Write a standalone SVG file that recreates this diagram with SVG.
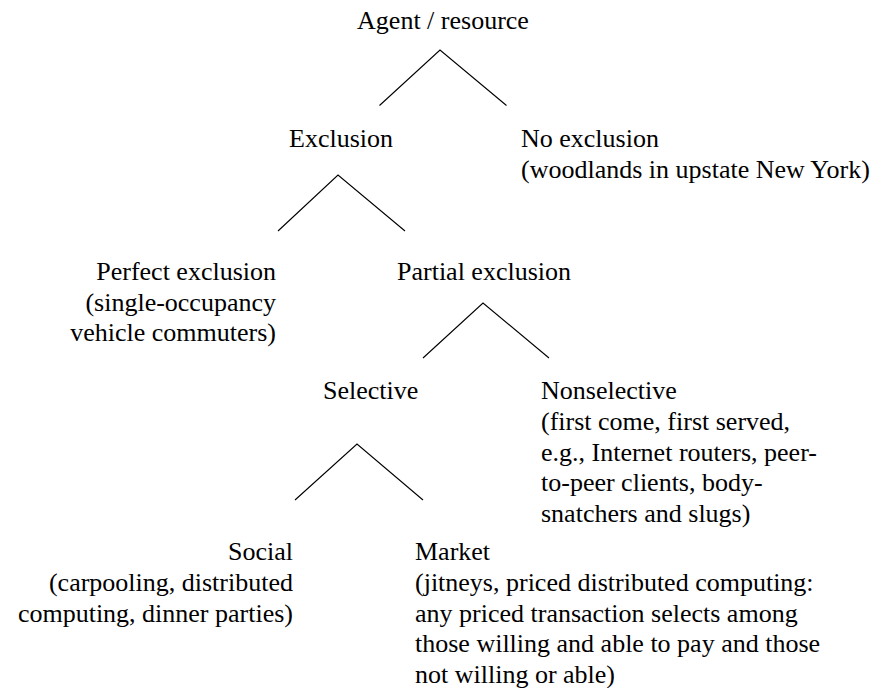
<svg xmlns="http://www.w3.org/2000/svg" width="883" height="688" viewBox="0 0 883 688">
<style>
text { font-family: "Liberation Serif", "Times New Roman", serif; font-size: 26px; fill: #000; }
.r { text-anchor: end; }
.c { text-anchor: middle; }
.edge { stroke: #000; stroke-width: 1.1; fill: none; }
</style>
<rect width="883" height="688" fill="#fff"/>
<g id="connectors">
<path class="edge" d="M379.5,105.5 L440,50 L506.5,105.5"/>
<path class="edge" d="M278,231 L338,175 L405,231"/>
<path class="edge" d="M423,358 L483,303 L549,358"/>
<path class="edge" d="M295,500 L357,444 L423,500"/>
</g>
<g id="agent-resource"><text x="443" y="29" class="c">Agent / resource</text></g>
<g id="exclusion"><text x="341" y="147" class="c">Exclusion</text></g>
<g id="no-exclusion">
<text x="521" y="147">No exclusion</text>
<text x="521" y="177.5">(woodlands in upstate New York)</text>
</g>
<g id="perfect-exclusion">
<text x="276" y="280" class="r">Perfect exclusion</text>
<text x="276" y="310.5" class="r">(single-occupancy</text>
<text x="276" y="341" class="r">vehicle commuters)</text>
</g>
<g id="partial-exclusion"><text x="397" y="280">Partial exclusion</text></g>
<g id="selective"><text x="323" y="399">Selective</text></g>
<g id="nonselective">
<text x="541" y="399">Nonselective</text>
<text x="541" y="429.8">(first come, first served,</text>
<text x="541" y="460.6">e.g., Internet routers, peer-</text>
<text x="541" y="491.4">to-peer clients, body-</text>
<text x="541" y="522.2">snatchers and slugs)</text>
</g>
<g id="social">
<text x="293" y="560" class="r">Social</text>
<text x="293" y="590.8" class="r">(carpooling, distributed</text>
<text x="293" y="621.6" class="r">computing, dinner parties)</text>
</g>
<g id="market">
<text x="415" y="560">Market</text>
<text x="415" y="590.8">(jitneys, priced distributed computing:</text>
<text x="415" y="621.6">any priced transaction selects among</text>
<text x="415" y="652.4">those willing and able to pay and those</text>
<text x="415" y="683.2">not willing or able)</text>
</g>
</svg>
